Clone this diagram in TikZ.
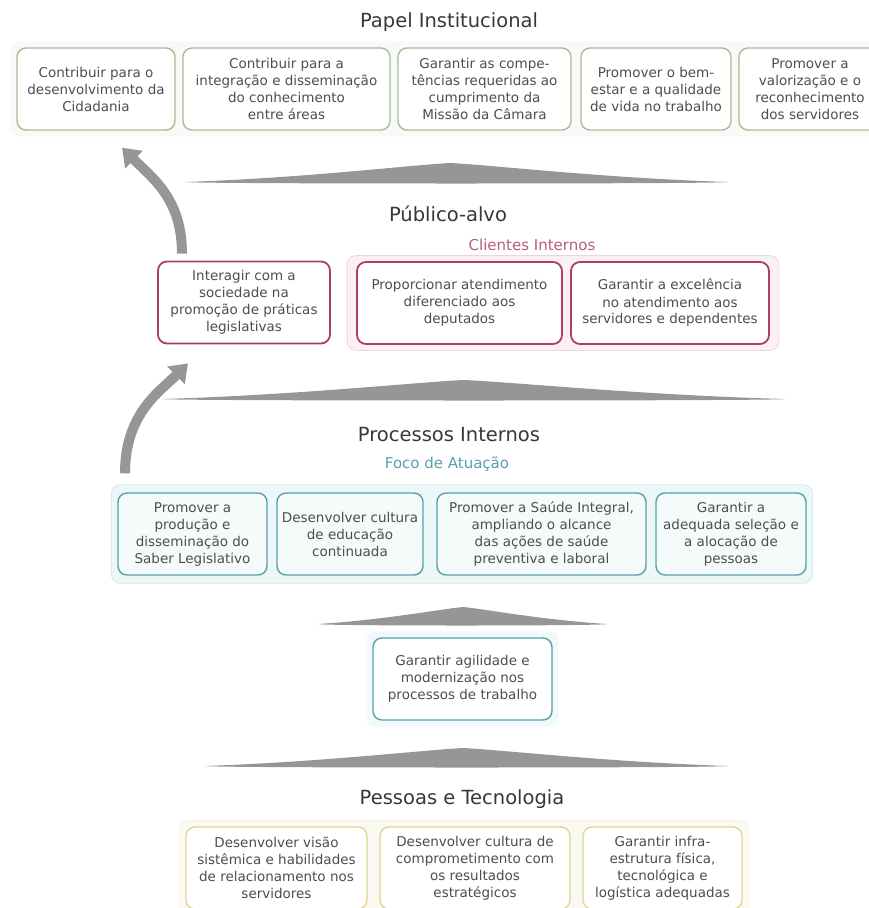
\documentclass[tikz,border=0pt]{standalone}
\usepackage{fontspec}
\setmainfont{DejaVu Sans}
\usepackage{tikz}
\usetikzlibrary{arrows.meta,positioning,fit,backgrounds}
\definecolor{verde}{RGB}{165,190,150}
\definecolor{rosa}{RGB}{172,62,105}
\definecolor{rosaclaro}{RGB}{251,241,245}
\definecolor{azul}{RGB}{88,160,170}
\definecolor{azulclaro}{RGB}{236,247,248}
\definecolor{amarelo}{RGB}{224,216,146}
\definecolor{cinza}{RGB}{150,150,150}
\definecolor{texto}{RGB}{78,78,78}
\definecolor{escuro}{RGB}{55,55,55}

\begin{document}
\begin{tikzpicture}[x=1pt,y=-1pt,
	caixa/.style={draw,rounded corners=9pt,fill=white,align=center,text=texto,
		font=\fontsize{13.5}{17}\selectfont,minimum height=82pt,inner sep=2pt,line width=1.4pt},
	papel/.style={caixa,draw=verde},
	publico/.style={caixa,draw=rosa,line width=1.8pt},
	processo/.style={caixa,draw=azul,fill=azulclaro!50},
	pessoa/.style={caixa,draw=amarelo},
	titulo/.style={text=escuro,font=\fontsize{19.5}{22}\selectfont},
	subtitulo/.style={font=\fontsize{15}{17}\selectfont},
	grupo/.style={rounded corners=9pt,line width=0.8pt},
	telhado/.style={fill=cinza},
	seta/.style={cinza,line width=10pt,-{Triangle[length=17pt,width=24pt]}}]
	\useasboundingbox (0,0) rectangle (869,908);
	
	\node[titulo] (tpapel) at (449,22){Papel Institucional};
	\node[papel,minimum width=158pt] (cid) at (96,89){Contribuir para o\\desenvolvimento da\\Cidadania};
	\node[papel,minimum width=207pt] (integ) at (286.5,89){Contribuir para a\\integração e disseminação\\do conhecimento\\entre áreas};
	\node[papel,minimum width=173pt] (compet) at (484.5,89){Garantir as compe-\\tências requeridas ao\\cumprimento da\\Missão da Câmara};
	\node[papel,minimum width=150pt] (bemestar) at (656,89){Promover o bem-\\estar e a qualidade\\de vida no trabalho};
	\node[papel,minimum width=142pt] (valor) at (810,89){Promover a\\valorização e o\\reconhecimento\\dos servidores};
	
	\node[titulo] (tpublico) at (448,214){Público-alvo};
	\node[subtitulo,text=rosa!85] (clientes) at (532,245){Clientes Internos};
	\node[publico,minimum width=172pt] (interagir) at (244,302.5){Interagir com a\\sociedade na\\promoção de práticas\\legislativas};
	\node[publico,minimum width=205pt] (proporc) at (459.5,303){Proporcionar atendimento\\diferenciado aos\\deputados};
	\node[publico,minimum width=198pt] (excel) at (670,303){Garantir a excelência\\no atendimento aos\\servidores e dependentes};
	
	\node[titulo] (tprocessos) at (449,435){Processos Internos};
	\node[subtitulo,text=azul] (foco) at (447,464){Foco de Atuação};
	\node[processo,minimum width=149pt] (saber) at (192.5,534){Promover a\\produção e\\disseminação do\\Saber Legislativo};
	\node[processo,minimum width=146pt] (educ) at (350,534){Desenvolver cultura\\de educação\\continuada};
	\node[processo,minimum width=209pt] (saude) at (541.5,534){Promover a Saúde Integral,\\ampliando o alcance\\das ações de saúde\\preventiva e laboral};
	\node[processo,minimum width=150pt] (selec) at (731,534){Garantir a\\adequada seleção e\\a alocação de\\pessoas};
	
	\node[processo,fill=white,minimum width=179pt] (agil) at (462.5,679){Garantir agilidade e\\modernização nos\\processos de trabalho};
	
	\node[titulo] (tpessoas) at (462,799){Pessoas e Tecnologia};
	\node[pessoa,minimum width=181pt] (visao) at (276.5,868){Desenvolver visão\\sistêmica e habilidades\\de relacionamento nos\\servidores};
	\node[pessoa,minimum width=190pt] (compr) at (475,868){Desenvolver cultura de\\comprometimento com\\os resultados\\estratégicos};
	\node[pessoa,minimum width=159pt] (infra) at (662.5,868){Garantir infra-\\estrutura física,\\tecnológica e\\logística adequadas};
	
	\begin{scope}[on background layer]
		\node[grupo,fill=verde!7,inner sep=6pt,fit=(cid)(valor)] (gpapel){};
		\node[grupo,fill=rosaclaro,draw=rosa!22,inner xsep=9pt,inner ysep=5.5pt,fit=(proporc)(excel)] (gclientes){};
		\node[grupo,fill=azulclaro,draw=azul!25,inner xsep=6pt,inner ysep=7.5pt,fit=(saber)(selec)] (gfoco){};
		\node[grupo,fill=azulclaro!70,inner sep=6pt,fit=(agil)] (gagil){};
		\node[grupo,fill=amarelo!12,draw=amarelo!30,inner sep=6pt,fit=(visao)(infra)] (gpessoas){};
	\end{scope}
	
	\foreach \xa/\xp/\xb/\yb/\yt in {185/450/728/183/163,162/464/785/400/380,318/463/607/625/607,205/463/728/767/748}{
		\fill[telhado] (\xa,\yb-1)
		.. controls ({\xa+(\xp-\xa)*0.45},\yb-5) and ({\xp-(\xp-\xa)*0.15},\yt+2) .. (\xp,\yt)
		.. controls ({\xp+(\xb-\xp)*0.15},\yt+2) and ({\xb-(\xb-\xp)*0.45},\yb-5) .. (\xb,\yb-1)
		.. controls (\xb-2,\yb+1) and (\xa+2,\yb+1) .. cycle;
	}
	
	\draw[seta] ([xshift=-62pt,yshift=7pt]interagir.north) .. controls +(0,-55) and +(30,30) .. ([xshift=26pt,yshift=-17pt]cid.south);
	\draw[seta] ([xshift=-67.5pt,yshift=19pt]saber.north) .. controls +(0,-60) and +(-28,28) .. ([xshift=-56pt,yshift=-19pt]interagir.south);
\end{tikzpicture}
\end{document}
